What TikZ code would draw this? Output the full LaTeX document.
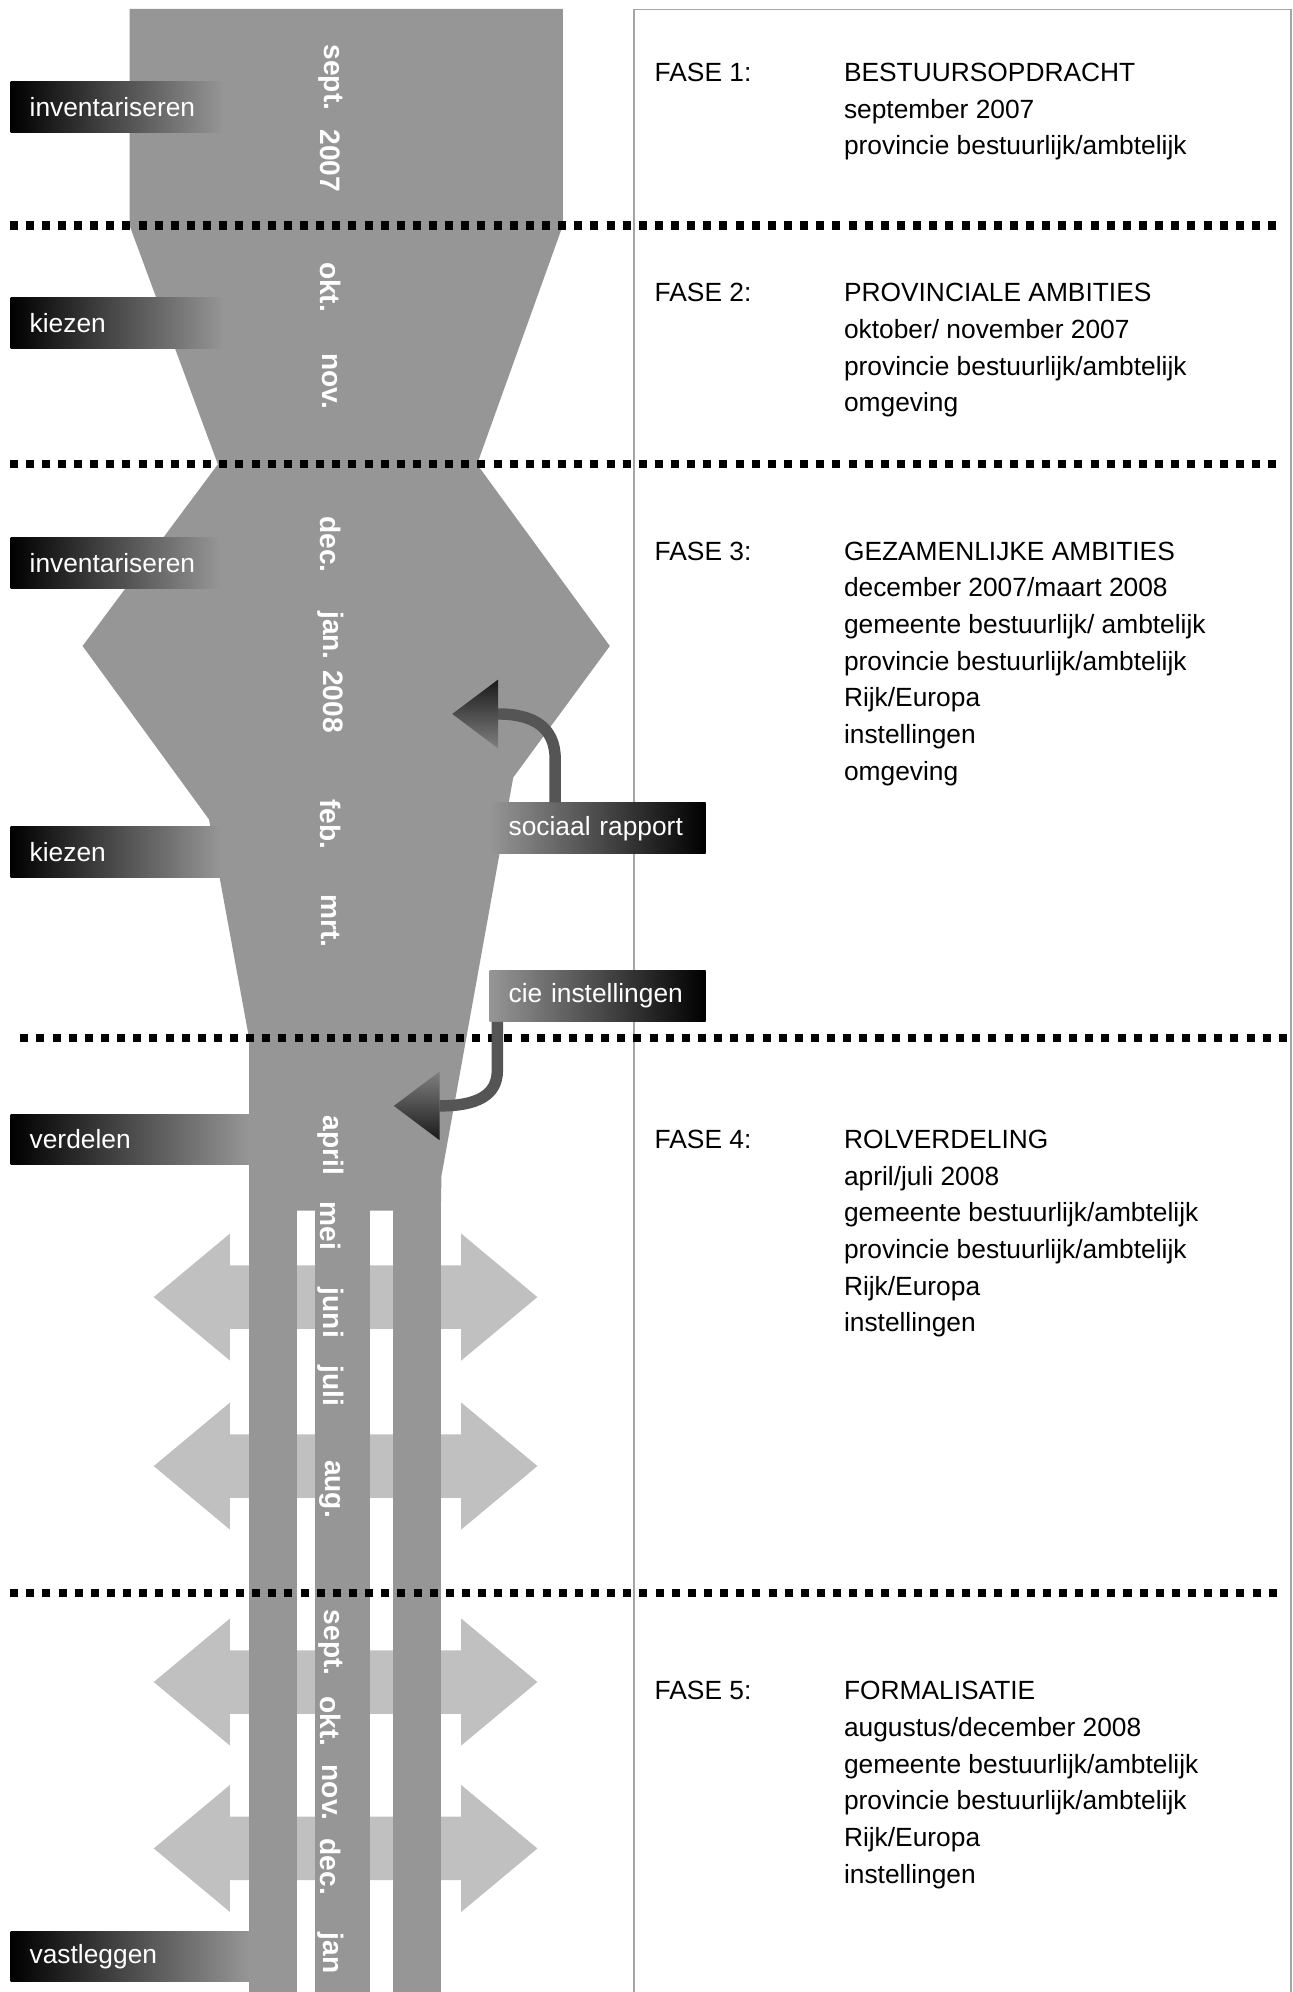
\documentclass[tikz,border=0pt]{standalone}
\usepackage{fontspec}
\setmainfont{Liberation Sans}
\usepackage{tikz}
\usetikzlibrary{arrows.meta, positioning}
\usepackage{xcolor}
\definecolor{MG}{RGB}{150,150,150}
\definecolor{LG}{RGB}{192,192,192}
\definecolor{BG}{RGB}{165,165,165}
\definecolor{DG}{RGB}{85,85,85}

\begin{document}
\begin{tikzpicture}[
  lbl/.style={anchor=west, minimum height=0.8cm, text width=#1, inner xsep=0.3cm,
              inner ysep=0pt, left color=black, right color=MG, text=white,
              font=\fontsize{11.8pt}{14pt}\selectfont},
  rlbl/.style={anchor=west, minimum height=0.8cm, text width=#1, inner xsep=0.3cm,
               inner ysep=0pt, left color=MG, right color=black, text=white,
               font=\fontsize{11.8pt}{14pt}\selectfont},
  mon/.style={text=white, rotate=-90, inner sep=0pt,
              font=\fontsize{12.6pt}{14pt}\selectfont\bfseries},
  txt/.style={anchor=base west, inner sep=0pt, font=\fontsize{11.8pt}{14pt}\selectfont},
  sep/.style={line width=0.13cm, dash pattern=on 0.126cm off 0.128cm},
  bendline/.style={line width=0.18cm, draw=DG}
]
\useasboundingbox (0,0) rectangle (20.34,-31.36);

% Side arrows (behind the bars)
\foreach \y in {-20.42,-23.08,-26.48,-29.1} {
  \fill[LG] (2.42,\y) -- (3.62,\y+1) -- (3.62,\y+0.5) -- (7.26,\y+0.5) -- (7.26,\y+1)
    -- (8.46,\y) -- (7.26,\y-1) -- (7.26,\y-0.5) -- (3.62,\y-0.5) -- (3.62,\y-1) -- cycle;
}

% Funnel
\fill[MG] (2.04,-0.14) -- (8.86,-0.14) -- (8.86,-3.55) -- (7.51,-7.31) -- (9.6,-10.17)
  -- (8.08,-12.24) -- (6.95,-18.51) -- (6.94,-19.06) -- (3.92,-19.06) -- (3.92,-16.34)
  -- (3.29,-12.9) -- (1.3,-10.17) -- (3.43,-7.31) -- (2.04,-3.55) -- cycle;
\foreach \xa/\xb in {3.92/4.68, 4.96/5.82, 6.18/6.94} {
  \fill[MG] (\xa,-19.04) rectangle (\xb,-31.45);
}

% Right column frame
\draw[BG, line width=0.03cm] (9.98,-31.45) -- (9.98,-0.15) -- (20.32,-0.15) -- (20.32,-31.45);

% Phase separators
\draw[sep] (0.15,-3.55) -- (20.18,-3.55);
\draw[sep] (0.15,-7.3)  -- (20.18,-7.3);
\draw[sep] (0.32,-16.34)-- (20.34,-16.34);
\draw[sep] (0.16,-25.08)-- (20.18,-25.08);

% Months
\foreach \m/\y [count=\i] in {sept./-1.22, 2007/-2.53, okt./-4.52, nov./-6.0,
    dec./-8.57, jan. 2008/-10.58, feb./-12.98, mrt./-14.5, april/-18.03, mei/-19.3,
    juni/-20.67, juli/-21.82, aug./-23.44, sept./-25.86, okt./-27.1, nov./-28.22,
    dec./-29.39, jan/-30.75} {
  \node[mon] (mon\i) at (5.2,\y) {\m};
}

% Activities
\node[lbl=2.76cm] (inv1) at (0.16,-1.68)  {inventariseren};
\node[lbl=2.76cm] (kies1) at (0.16,-5.08) {kiezen};
\node[lbl=2.7cm]  (inv2) at (0.16,-8.86)  {inventariseren};
\node[lbl=2.7cm]  (kies2) at (0.16,-13.41){kiezen};
\node[lbl=3.16cm] (verd) at (0.16,-17.94) {verdelen};
\node[lbl=3.16cm] (vast) at (0.16,-30.8)  {vastleggen};

% Inputs
\node[rlbl=2.8cm] (sr)  at (7.7,-13.04) {sociaal rapport};
\node[rlbl=2.8cm] (cie) at (7.7,-15.68) {cie instellingen};

\coordinate (srx) at (8.74,-12);
\coordinate (srhead) at (7.84,-11.24);
\draw[bendline] (sr.north -| srx) -- (8.74,-11.95) .. controls (8.74,-11.45) and (8.4,-11.24) .. (srhead);
\shade[top color=black!90, bottom color=DG!75] ([yshift=0.54cm]srhead) -- ([xshift=-0.72cm]srhead)
  -- ([yshift=-0.54cm]srhead) -- cycle;

\coordinate (ciex) at (7.83,-16);
\coordinate (ciehead) at (6.92,-17.41);
\draw[bendline] (cie.south -| ciex) -- (7.83,-16.85) .. controls (7.83,-17.25) and (7.5,-17.41) .. (ciehead);
\shade[top color=DG!75, bottom color=black!90] ([yshift=0.54cm]ciehead) -- ([xshift=-0.72cm]ciehead)
  -- ([yshift=-0.54cm]ciehead) -- cycle;

% Phases
\node[txt] (fase1) at (10.3,-1.286) {FASE 1:};
\foreach \t [count=\i from 0] in {BESTUURSOPDRACHT, september 2007, provincie bestuurlijk/ambtelijk} {
  \node[txt] (fA\i) at (13.28,-1.286-0.577*\i) {\t};
}
\node[txt] (fase2) at (10.3,-4.75) {FASE 2:};
\foreach \t [count=\i from 0] in {PROVINCIALE AMBITIES, oktober/ november 2007,
    provincie bestuurlijk/ambtelijk, omgeving} {
  \node[txt] (fB\i) at (13.28,-4.75-0.577*\i) {\t};
}
\node[txt] (fase3) at (10.3,-8.82) {FASE 3:};
\foreach \t [count=\i from 0] in {GEZAMENLIJKE AMBITIES, december 2007/maart 2008,
    gemeente bestuurlijk/ ambtelijk, provincie bestuurlijk/ambtelijk, Rijk/Europa,
    instellingen, omgeving} {
  \node[txt] (fC\i) at (13.28,-8.82-0.577*\i) {\t};
}
\node[txt] (fase4) at (10.3,-18.08) {FASE 4:};
\foreach \t [count=\i from 0] in {ROLVERDELING, april/juli 2008,
    gemeente bestuurlijk/ambtelijk, provincie bestuurlijk/ambtelijk, Rijk/Europa,
    instellingen} {
  \node[txt] (fD\i) at (13.28,-18.08-0.577*\i) {\t};
}
\node[txt] (fase5) at (10.3,-26.76) {FASE 5:};
\foreach \t [count=\i from 0] in {FORMALISATIE, augustus/december 2008,
    gemeente bestuurlijk/ambtelijk, provincie bestuurlijk/ambtelijk, Rijk/Europa,
    instellingen} {
  \node[txt] (fE\i) at (13.28,-26.76-0.577*\i) {\t};
}
\end{tikzpicture}
\end{document}
